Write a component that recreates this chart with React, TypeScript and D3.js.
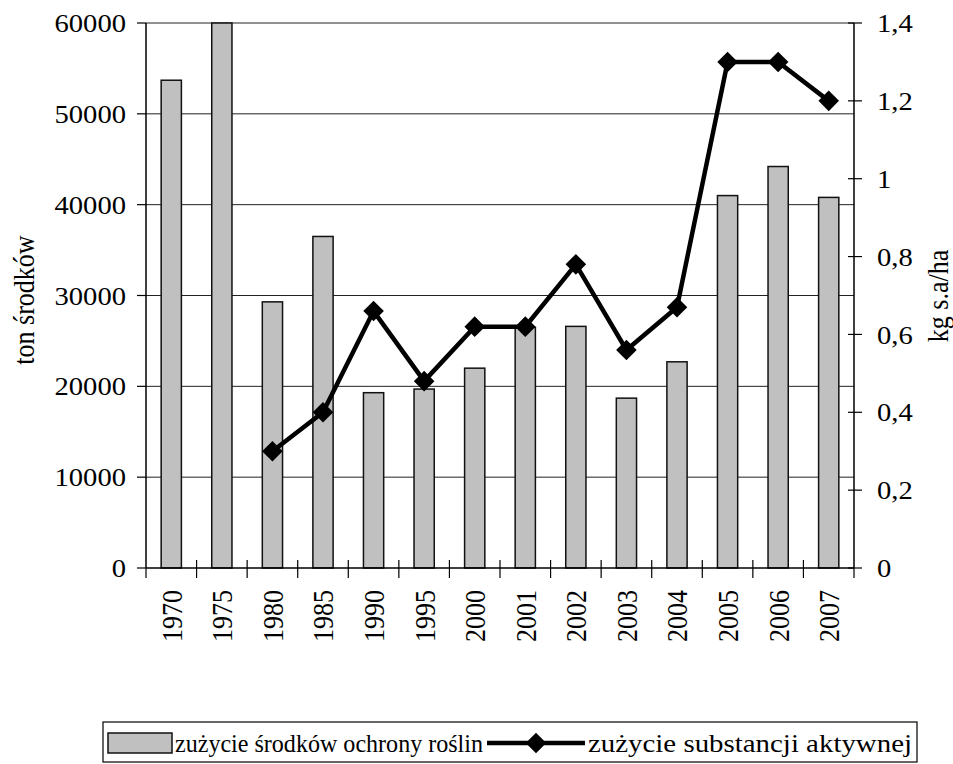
import React, { useEffect, useRef } from "react";
import * as d3 from "d3";

const years = ["1970", "1975", "1980", "1985", "1990", "1995", "2000", "2001", "2002", "2003", "2004", "2005", "2006", "2007"];
const tonsUsed = [53700, 60000, 29300, 36500, 19300, 19700, 22000, 26500, 26600, 18700, 22700, 41000, 44200, 40800];
// active substance, kg/ha (no data before 1980)
const activeKgHa: (number | null)[] = [null, null, 0.3, 0.4, 0.66, 0.48, 0.62, 0.62, 0.78, 0.56, 0.67, 1.3, 1.3, 1.2];
const leftTicks = [0, 10000, 20000, 30000, 40000, 50000, 60000];
const rightTicks = [0, 0.2, 0.4, 0.6, 0.8, 1, 1.2, 1.4];

const W = 953;
const H = 764;
const FONT = "Liberation Serif";
const FS = 26;

export default function App() {
  const ref = useRef<SVGSVGElement>(null);

  useEffect(() => {
    const svg = d3.select(ref.current);
    svg.selectAll("*").remove();

    const left = 146, right = 854, top = 23, bottom = 568;

    const x = d3.scaleBand<string>().domain(years).range([left, right]).paddingInner(0.6).paddingOuter(0.3);
    const yL = d3.scaleLinear().domain([0, 60000]).range([bottom, top]);
    const yR = d3.scaleLinear().domain([0, 1.4]).range([bottom, top]);
    const step = x.step();

    const g = svg.append("g").attr("font-family", FONT).attr("fill", "#000");

    // gridlines
    g.append("g")
      .selectAll("line")
      .data(leftTicks.slice(1))
      .join("line")
      .attr("x1", left).attr("x2", right)
      .attr("y1", d => yL(d)).attr("y2", d => yL(d))
      .attr("stroke", "#222").attr("stroke-width", 1);

    // bars
    g.append("g")
      .selectAll("rect")
      .data(years)
      .join("rect")
      .attr("x", d => x(d)!)
      .attr("width", x.bandwidth())
      .attr("y", (_, i) => yL(tonsUsed[i]))
      .attr("height", (_, i) => bottom - yL(tonsUsed[i]))
      .attr("fill", "#c0c0c0")
      .attr("stroke", "#111")
      .attr("stroke-width", 1.5);

    // axes lines
    g.append("line").attr("x1", left).attr("x2", left).attr("y1", top).attr("y2", bottom).attr("stroke", "#000").attr("stroke-width", 1.5);
    g.append("line").attr("x1", right).attr("x2", right).attr("y1", top).attr("y2", bottom).attr("stroke", "#000").attr("stroke-width", 1.5);
    g.append("line").attr("x1", left).attr("x2", right).attr("y1", bottom).attr("y2", bottom).attr("stroke", "#000").attr("stroke-width", 1.5);

    // left ticks + labels (glyphs are a bit wide in the source, hence scale)
    const lt = g.append("g").selectAll("g").data(leftTicks).join("g")
      .attr("transform", d => `translate(0,${yL(d)})`);
    lt.append("line").attr("x1", left - 9).attr("x2", left).attr("stroke", "#000").attr("stroke-width", 1.2);
    lt.append("text").attr("transform", "translate(126,0) scale(1.1,1)").attr("dy", "0.35em").attr("text-anchor", "end")
      .attr("font-size", FS).text(d => String(d));

    // right ticks + labels
    const rt = g.append("g").selectAll("g").data(rightTicks).join("g")
      .attr("transform", d => `translate(0,${yR(d)})`);
    rt.append("line").attr("x1", right - 6).attr("x2", right + 8).attr("stroke", "#000").attr("stroke-width", 1.2);
    rt.append("text").attr("transform", "translate(877,0) scale(1.1,1)").attr("dy", "0.35em").attr("text-anchor", "start")
      .attr("font-size", FS).text(d => d3.format("~g")(d).replace(".", ","));

    // x ticks at category boundaries
    g.append("g").selectAll("line").data(d3.range(years.length + 1)).join("line")
      .attr("x1", i => left + i * step).attr("x2", i => left + i * step)
      .attr("y1", i => (i === 0 || i === years.length ? bottom : bottom - 8)).attr("y2", bottom + 10)
      .attr("stroke", "#000").attr("stroke-width", 1.2);

    // x labels
    g.append("g").selectAll("text").data(years).join("text")
      .attr("transform", d => `translate(${x(d)! + x.bandwidth() / 2},590) rotate(-90) scale(1,1.15)`)
      .attr("text-anchor", "end").attr("dy", "0.35em")
      .attr("font-size", FS).text(d => d);

    // line series
    const pts = years.map((yr, i) => ({ yr, v: activeKgHa[i] })).filter(p => p.v !== null) as { yr: string; v: number }[];
    const line = d3.line<{ yr: string; v: number }>()
      .x(d => x(d.yr)! + x.bandwidth() / 2)
      .y(d => yR(d.v));
    g.append("path").datum(pts).attr("d", line).attr("fill", "none")
      .attr("stroke", "#000").attr("stroke-width", 4.5).attr("stroke-linejoin", "miter");
    const diamond = d3.symbol().type(d3.symbolDiamond2).size(270);
    g.append("g").selectAll("path").data(pts).join("path")
      .attr("transform", d => `translate(${x(d.yr)! + x.bandwidth() / 2},${yR(d.v)})`)
      .attr("d", diamond()!).attr("fill", "#000");

    // axis titles
    g.append("text").attr("transform", "translate(24,300) rotate(-90) scale(1,1.1)").attr("text-anchor", "middle")
      .attr("dy", "0.35em").attr("font-size", FS).text("ton środków");
    g.append("text").attr("transform", "translate(938,296) rotate(-90) scale(1,1.1)").attr("text-anchor", "middle")
      .attr("dy", "0.35em").attr("font-size", FS).text("kg s.a/ha");

    // legend
    const lg = g.append("g");
    lg.append("rect").attr("x", 103).attr("y", 722).attr("width", 814).attr("height", 40)
      .attr("fill", "#fff").attr("stroke", "#000").attr("stroke-width", 1.2);
    lg.append("rect").attr("x", 108).attr("y", 733).attr("width", 64).attr("height", 20)
      .attr("fill", "#c0c0c0").attr("stroke", "#111").attr("stroke-width", 1.5);
    lg.append("text").attr("x", 175).attr("y", 743).attr("dy", "0.35em").attr("font-size", FS)
      .attr("textLength", 308).attr("lengthAdjust", "spacingAndGlyphs").text("zużycie środków ochrony roślin");
    lg.append("line").attr("x1", 487).attr("x2", 585).attr("y1", 743).attr("y2", 743)
      .attr("stroke", "#000").attr("stroke-width", 4.5);
    lg.append("path").attr("transform", "translate(536,743)").attr("d", diamond()!).attr("fill", "#000");
    lg.append("text").attr("x", 588).attr("y", 743).attr("dy", "0.35em").attr("font-size", FS)
      .attr("textLength", 324).attr("lengthAdjust", "spacingAndGlyphs").text("zużycie substancji aktywnej");
  }, []);

  return (
    <svg ref={ref} width={W} height={H} style={{ position: "absolute", left: 0, top: 0, background: "#fff" }} />
  );
}
